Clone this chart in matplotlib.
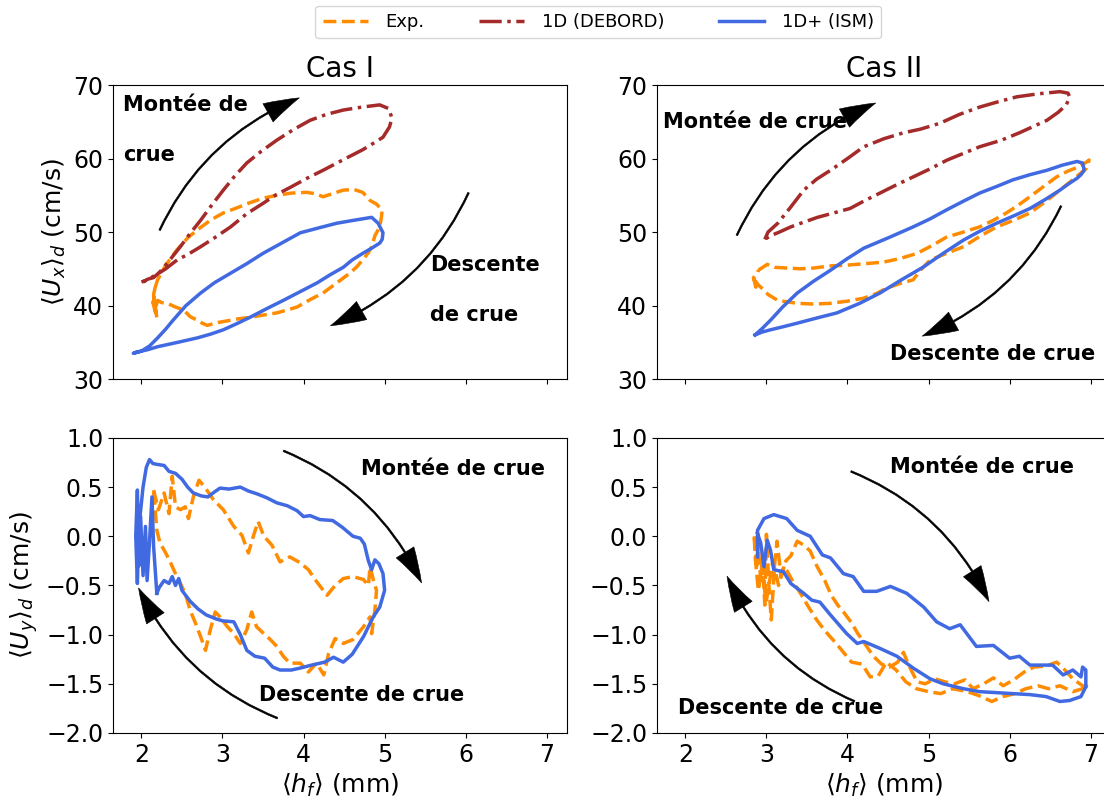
import matplotlib.pyplot as plt

# ---- Cas I : <Ux>_d en fonction de <h_f>
h_exp1_x = [2.17, 2.2, 2.3, 2.44, 2.57, 2.69, 2.85, 3.01, 3.18, 3.34, 3.5, 3.67, 3.85, 4.04, 4.15, 4.24,
            4.35, 4.49, 4.62, 4.73, 4.82, 4.9, 4.97, 4.96, 4.94, 4.88, 4.86, 4.84, 4.8, 4.73, 4.65, 4.57,
            4.4, 4.24, 4.08, 3.92, 3.8, 3.67, 3.5, 3.34, 3.2, 3.1, 2.95, 2.81, 2.75, 2.69, 2.6, 2.52,
            2.42, 2.32, 2.25, 2.2, 2.17, 2.15, 2.18, 2.14, 2.19, 2.15, 2.17]
ux_exp1 = [42.5, 43.5, 45.5, 47.6, 49.2, 50.3, 51.6, 52.6, 53.3, 54.0, 54.6, 55.0, 55.3, 55.4, 55.2, 54.8,
           55.2, 55.7, 55.8, 55.4, 54.3, 53.8, 53.0, 52.0, 50.7, 49.5, 48.7, 48.0, 47.2, 46.2, 45.2, 44.4,
           43.0, 41.7, 40.8, 39.8, 39.4, 39.0, 38.7, 38.4, 38.2, 38.0, 37.7, 37.3, 37.6, 38.0, 38.5, 39.4,
           39.8, 40.3, 40.4, 40.7, 39.5, 41.2, 39.0, 40.5, 38.3, 41.5, 42.5]

h_deb1 = [2.02, 2.08, 2.15, 2.23, 2.35, 2.48, 2.6, 2.73, 2.87, 3.01, 3.15, 3.3, 3.48, 3.67, 3.87, 4.08,
          4.28, 4.49, 4.72, 4.94, 5.05, 5.09, 5.06, 4.98, 4.85, 4.73, 4.5, 4.24, 4.04, 3.84, 3.65, 3.5,
          3.3, 3.1, 2.9, 2.73, 2.58, 2.44, 2.3, 2.2, 2.12, 2.05, 2.0]
ux_deb1 = [43.2, 43.6, 43.8, 44.6, 46.2, 48.0, 49.8, 51.6, 53.7, 55.7, 57.6, 59.4, 61.0, 62.5, 63.9, 65.2,
           66.0, 66.6, 67.0, 67.3, 66.8, 65.5, 64.3, 62.9, 62.0, 61.2, 59.9, 58.4, 57.3, 56.1, 55.0, 53.9,
           52.5, 50.7, 49.2, 48.0, 47.0, 46.2, 45.0, 44.3, 43.8, 43.4, 43.2]

h_ism1_x = [1.93, 2.0, 2.1, 2.2, 2.3, 2.39, 2.55, 2.73, 2.9, 3.1, 3.3, 3.5, 3.73, 3.96, 4.2, 4.41, 4.62,
            4.84, 4.92, 4.98, 4.97, 4.94, 4.84, 4.73, 4.6, 4.49, 4.33, 4.17, 3.96, 3.75, 3.55, 3.34,
            3.17, 3.01, 2.85, 2.69, 2.45, 2.2, 2.08, 2.0, 1.93, 1.9, 1.95]
ux_ism1 = [33.6, 33.8, 34.5, 35.6, 36.8, 38.0, 40.0, 41.7, 43.1, 44.4, 45.7, 47.1, 48.5, 49.9, 50.6, 51.2,
           51.6, 52.0, 51.2, 49.9, 49.0, 48.5, 47.8, 47.1, 46.2, 45.2, 44.2, 43.1, 41.9, 40.7, 39.6, 38.4,
           37.5, 36.7, 36.1, 35.6, 35.0, 34.4, 34.0, 33.8, 33.6, 33.5, 33.7]

# ---- Cas II : <Ux>_d
h_exp2_x = [2.9, 3.01, 3.1, 3.26, 3.42, 3.58, 3.8, 4.0, 4.22, 4.44, 4.65, 4.86, 5.05, 5.22, 5.43, 5.63,
            5.8, 5.96, 6.1, 6.25, 6.42, 6.58, 6.72, 6.86, 6.96, 6.98, 6.95, 6.8, 6.62, 6.45, 6.25, 6.05,
            5.84, 5.63, 5.43, 5.22, 5.02, 4.9, 4.81, 4.65, 4.49, 4.35, 4.2, 4.0, 3.79, 3.58, 3.38, 3.14,
            3.02, 2.97, 2.9, 2.85, 2.87, 2.84, 2.88, 2.9]
ux_exp2 = [44.8, 45.6, 45.2, 45.1, 45.0, 45.1, 45.4, 45.5, 45.7, 45.9, 46.4, 47.1, 48.2, 49.3, 50.0, 50.7,
           51.6, 52.6, 53.6, 54.8, 56.2, 57.5, 58.3, 58.9, 59.6, 59.8, 58.7, 57.3, 55.7, 54.2, 52.6, 51.6,
           50.7, 49.4, 48.0, 47.1, 46.2, 44.8, 43.5, 43.0, 42.4, 41.6, 41.0, 40.6, 40.3, 40.2, 40.3, 40.7,
           41.5, 42.1, 42.8, 43.5, 42.5, 43.8, 44.2, 44.8]

h_deb2 = [2.98, 3.02, 3.14, 3.3, 3.46, 3.62, 3.79, 4.0, 4.2, 4.45, 4.69, 4.9, 5.14, 5.38, 5.63, 5.85,
          6.09, 6.35, 6.62, 6.72, 6.74, 6.7, 6.6, 6.46, 6.3, 6.12, 5.9, 5.63, 5.43, 5.23, 5.02, 4.81,
          4.6, 4.4, 4.2, 4.03, 3.83, 3.63, 3.45, 3.3, 3.14, 3.05, 2.98]
ux_deb2 = [49.0, 50.0, 51.2, 53.4, 55.7, 57.2, 58.4, 60.0, 61.6, 62.7, 63.5, 64.0, 64.8, 66.0, 67.0, 67.7,
           68.4, 68.8, 69.1, 68.9, 68.4, 67.3, 66.3, 65.2, 64.4, 63.5, 62.5, 61.6, 60.7, 59.8, 58.6, 57.5,
           56.4, 55.3, 54.2, 53.2, 52.6, 52.0, 51.3, 50.7, 49.9, 49.5, 49.0]

h_ism2_x = [2.86, 2.95, 3.05, 3.2, 3.38, 3.58, 3.79, 4.0, 4.2, 4.5, 4.81, 5.02, 5.22, 5.43, 5.63, 5.84,
            6.04, 6.25, 6.46, 6.65, 6.83, 6.9, 6.92, 6.88, 6.83, 6.72, 6.62, 6.45, 6.25, 6.05, 5.84, 5.63,
            5.43, 5.18, 4.93, 4.65, 4.4, 4.15, 3.87, 3.62, 3.38, 3.2, 3.05, 2.95, 2.88, 2.86]
ux_ism2 = [36.0, 36.9, 38.0, 39.8, 41.7, 43.3, 44.8, 46.4, 47.8, 49.2, 50.7, 51.8, 53.0, 54.2, 55.3, 56.2,
           57.1, 57.8, 58.4, 59.1, 59.6, 59.4, 58.4, 57.8, 57.3, 56.5, 55.7, 54.5, 53.2, 52.2, 51.2, 50.1,
           48.9, 47.1, 45.2, 43.4, 41.7, 40.3, 39.0, 38.3, 37.6, 37.1, 36.7, 36.4, 36.1, 36.0]

# ---- Cas I : <Uy>_d
h_exp1_y = [2.15, 2.21, 2.28, 2.34, 2.38, 2.42, 2.48, 2.54, 2.58, 2.64, 2.71, 2.79, 2.89, 3.01, 3.14,
            3.24, 3.32, 3.38, 3.44, 3.51, 3.61, 3.71, 3.83, 3.96, 4.06, 4.16, 4.29, 4.39, 4.49, 4.61,
            4.74, 4.8, 4.82, 4.86, 4.9, 4.88, 4.84, 4.82, 4.74, 4.61, 4.49, 4.39, 4.31, 4.25, 4.16, 4.06,
            3.96, 3.83, 3.75, 3.67, 3.59, 3.51, 3.42, 3.36, 3.3, 3.22, 3.14, 3.06, 2.97, 2.91, 2.85,
            2.79, 2.73, 2.67, 2.6, 2.54, 2.48, 2.42, 2.36, 2.3, 2.23, 2.19, 2.17, 2.15]
uy_exp1 = [0.47, 0.27, 0.44, 0.23, 0.61, 0.30, 0.27, 0.30, 0.18, 0.40, 0.57, 0.49, 0.37, 0.27, 0.10,
           0.01, -0.17, 0.0, 0.15, 0.0, -0.09, -0.26, -0.21, -0.27, -0.34, -0.46, -0.60, -0.50, -0.43,
           -0.41, -0.44, -0.50, -0.31, -0.44, -0.55, -0.75, -0.99, -0.82, -0.92, -1.05, -1.09, -1.04,
           -1.19, -1.41, -1.29, -1.38, -1.29, -1.29, -1.22, -1.12, -1.05, -0.99, -0.92, -0.77, -0.95,
           -1.09, -0.99, -0.92, -0.82, -0.77, -0.95, -1.16, -1.02, -0.89, -0.75, -0.58, -0.48, -0.38,
           -0.27, -0.17, -0.07, 0.06, 0.27, 0.47]

h_ism1_y = [2.19, 2.15, 2.13, 2.1, 2.07, 2.05, 2.02, 1.99, 1.97, 1.95, 1.93, 1.95, 1.97, 2.02, 2.06,
            2.1, 2.14, 2.2, 2.28, 2.34, 2.42, 2.5, 2.57, 2.64, 2.74, 2.82, 2.9, 2.97, 3.08, 3.22, 3.32,
            3.43, 3.55, 3.67, 3.8, 3.92, 4.0, 4.08, 4.2, 4.36, 4.48, 4.61, 4.7, 4.75, 4.8, 4.84, 4.88,
            4.93, 4.98, 5.0, 4.94, 4.86, 4.74, 4.6, 4.49, 4.37, 4.26, 4.1, 3.96, 3.85, 3.71, 3.62, 3.52,
            3.4, 3.3, 3.22, 3.14, 3.0, 2.92, 2.8, 2.7, 2.6, 2.5, 2.46, 2.42, 2.38, 2.34, 2.28, 2.22, 2.19]
uy_ism1 = [-0.58, -0.10, 0.40, -0.05, -0.45, 0.10, -0.40, 0.20, -0.30, 0.47, 0.0, -0.48, 0.10, 0.50,
           0.70, 0.78, 0.74, 0.73, 0.72, 0.66, 0.64, 0.58, 0.50, 0.44, 0.41, 0.40, 0.45, 0.49, 0.48,
           0.50, 0.46, 0.43, 0.39, 0.34, 0.31, 0.26, 0.20, 0.21, 0.17, 0.16, 0.09, 0.0, -0.02, -0.08,
           -0.25, -0.34, -0.24, -0.28, -0.38, -0.55, -0.72, -0.82, -1.02, -1.20, -1.28, -1.23, -1.28,
           -1.31, -1.34, -1.36, -1.36, -1.33, -1.24, -1.22, -1.16, -1.0, -0.87, -0.86, -0.84, -0.80,
           -0.74, -0.66, -0.55, -0.43, -0.50, -0.41, -0.48, -0.45, -0.52, -0.58]

# ---- Cas II : <Uy>_d
h_exp2_y = [2.85, 2.88, 2.9, 2.93, 2.95, 2.98, 3.0, 3.03, 3.06, 3.1, 3.13, 3.18, 3.24, 3.3, 3.38, 3.46,
            3.54, 3.62, 3.72, 3.8, 3.88, 3.96, 4.05, 4.12, 4.22, 4.32, 4.42, 4.52, 4.62, 4.69, 4.76,
            4.86, 4.96, 5.08, 5.2, 5.32, 5.45, 5.55, 5.68, 5.8, 5.92, 6.05, 6.18, 6.3, 6.45, 6.58, 6.66,
            6.78, 6.9, 6.98, 6.9, 6.78, 6.62, 6.48, 6.35, 6.2, 6.06, 5.92, 5.78, 5.62, 5.48, 5.3, 5.15,
            5.0, 4.85, 4.72, 4.6, 4.48, 4.38, 4.28, 4.18, 4.05, 3.95, 3.85, 3.72, 3.62, 3.52, 3.42,
            3.32, 3.22, 3.15, 3.08, 3.0, 2.95, 2.9, 2.86, 2.85]
uy_exp2 = [0.0, -0.3, -0.1, -0.45, -0.2, -0.7, 0.02, -0.5, -0.85, -0.3, -0.05, -0.4, -0.25, -0.2,
           -0.05, -0.09, -0.15, -0.3, -0.45, -0.6, -0.7, -0.78, -0.88, -0.98, -1.1, -1.22, -1.3, -1.33,
           -1.28, -1.18, -1.32, -1.48, -1.5, -1.45, -1.48, -1.5, -1.46, -1.55, -1.5, -1.44, -1.52,
           -1.46, -1.38, -1.33, -1.32, -1.28, -1.34, -1.45, -1.52, -1.53, -1.55, -1.58, -1.52, -1.55,
           -1.52, -1.55, -1.6, -1.63, -1.68, -1.62, -1.58, -1.55, -1.6, -1.58, -1.55, -1.48, -1.36,
           -1.28, -1.42, -1.43, -1.3, -1.28, -1.18, -1.08, -0.96, -0.85, -0.72, -0.58, -0.45, -0.3,
           -0.5, -0.25, -0.65, -0.3, -0.55, -0.2, 0.0]

h_ism2_y = [2.89, 2.89, 2.97, 3.09, 3.25, 3.38, 3.54, 3.69, 3.79, 3.95, 4.07, 4.2, 4.36, 4.53, 4.73,
            4.94, 5.1, 5.26, 5.39, 5.59, 5.8, 6.0, 6.12, 6.25, 6.53, 6.66, 6.78, 6.88, 6.9, 6.94, 6.94,
            6.88, 6.74, 6.62, 6.45, 6.25, 6.04, 5.63, 5.43, 5.18, 5.02, 4.81, 4.61, 4.4, 4.2, 4.12,
            3.99, 3.79, 3.66, 3.56, 3.46, 3.3, 3.21, 3.09, 3.05, 3.01, 2.97, 2.93, 2.89]
uy_ism2 = [-0.21, 0.06, 0.18, 0.22, 0.18, 0.06, 0.0, -0.19, -0.22, -0.38, -0.41, -0.56, -0.56, -0.51,
           -0.58, -0.72, -0.87, -0.94, -0.9, -1.12, -1.11, -1.24, -1.22, -1.31, -1.31, -1.41, -1.36,
           -1.43, -1.33, -1.36, -1.53, -1.63, -1.67, -1.68, -1.63, -1.61, -1.6, -1.58, -1.55, -1.5,
           -1.45, -1.34, -1.22, -1.14, -1.07, -1.09, -0.99, -0.8, -0.67, -0.65, -0.58, -0.48, -0.36,
           -0.34, -0.14, -0.04, -0.31, -0.07, 0.03]

c_exp = "darkorange"
c_deb = "brown"
c_ism = "royalblue"
lw = 2.5

fig = plt.figure(figsize=(11.04, 8.0), dpi=100)
w, hgt = 0.4112, 0.3675
ax1 = fig.add_axes([0.1024, 0.5262, w, hgt])
ax2 = fig.add_axes([0.5951, 0.5262, w, hgt], sharex=ax1)
ax3 = fig.add_axes([0.1024, 0.0838, w, 0.3688], sharex=ax1)
ax4 = fig.add_axes([0.5951, 0.0838, w, 0.3688], sharex=ax1)

l1, = ax1.plot(h_exp1_x, ux_exp1, "--", color=c_exp, lw=lw, label="Exp.")
l2, = ax1.plot(h_deb1, ux_deb1, "-.", color=c_deb, lw=lw, label="1D (DEBORD)")
l3, = ax1.plot(h_ism1_x, ux_ism1, "-", color=c_ism, lw=lw, label="1D+ (ISM)")
ax2.plot(h_exp2_x, ux_exp2, "--", color=c_exp, lw=lw)
ax2.plot(h_deb2, ux_deb2, "-.", color=c_deb, lw=lw)
ax2.plot(h_ism2_x, ux_ism2, "-", color=c_ism, lw=lw)
ax3.plot(h_exp1_y, uy_exp1, "--", color=c_exp, lw=lw)
ax3.plot(h_ism1_y, uy_ism1, "-", color=c_ism, lw=lw)
ax4.plot(h_exp2_y, uy_exp2, "--", color=c_exp, lw=lw)
ax4.plot(h_ism2_y, uy_ism2, "-", color=c_ism, lw=lw)

for ax in (ax1, ax2):
    ax.set_ylim(30, 70)
    ax.set_yticks([30, 40, 50, 60, 70])
    ax.tick_params(labelbottom=False)
for ax in (ax3, ax4):
    ax.set_ylim(-2.0, 1.0)
    ax.set_yticks([-2.0, -1.5, -1.0, -0.5, 0.0, 0.5, 1.0])
    ax.set_xlabel(r"$\langle h_f \rangle$ (mm)", fontsize=18)
ax1.set_xlim(1.65, 7.25)
ax1.set_xticks([2, 3, 4, 5, 6, 7])
for ax in (ax1, ax2, ax3, ax4):
    ax.tick_params(labelsize=17)

ax1.set_ylabel(r"$\langle U_x \rangle_d$ (cm/s)", fontsize=18)
ax3.set_ylabel(r"$\langle U_y \rangle_d$ (cm/s)", fontsize=18)
ax1.set_title("Cas I", fontsize=20)
ax2.set_title("Cas II", fontsize=20)

arr = dict(arrowstyle="simple,head_length=1.0,head_width=0.6,tail_width=0.05",
           connectionstyle="arc3,rad=-0.2", color="black", lw=0.4, mutation_scale=25)
tk = dict(fontsize=15, fontweight="bold")

# fleches et textes
ax1.annotate("", xy=(3.98, 68.4), xytext=(2.21, 49.9), arrowprops=arr)
ax1.annotate("", xy=(4.3, 37.1), xytext=(6.05, 55.7), arrowprops=arr)
ax1.text(1.77, 67.3, "Montée de", va="center", **tk)
ax1.text(1.77, 60.5, "crue", va="center", **tk)
ax1.text(5.56, 45.5, "Descente", va="center", **tk)
ax1.text(5.56, 38.7, "de crue", va="center", **tk)

ax2.annotate("", xy=(4.38, 67.7), xytext=(2.62, 49.2), arrowprops=arr)
ax2.annotate("", xy=(4.89, 35.7), xytext=(6.65, 53.9), arrowprops=arr)
ax2.text(1.73, 65.0, "Montée de crue", va="center", **tk)
ax2.text(4.53, 33.4, "Descente de crue", va="center", **tk)

ax3.annotate("", xy=(5.47, -0.5), xytext=(3.72, 0.88), arrowprops=arr)
ax3.annotate("", xy=(1.95, -0.5), xytext=(3.71, -1.86), arrowprops=arr)
ax3.text(4.71, 0.68, "Montée de crue", va="center", **tk)
ax3.text(3.45, -1.61, "Descente de crue", va="center", **tk)

ax4.annotate("", xy=(5.76, -0.69), xytext=(4.01, 0.67), arrowprops=arr)
ax4.annotate("", xy=(2.5, -0.38), xytext=(4.12, -1.69), arrowprops=arr)
ax4.text(4.53, 0.70, "Montée de crue", va="center", **tk)
ax4.text(1.91, -1.75, "Descente de crue", va="center", **tk)

fig.legend(handles=[l1, l2, l3], loc="upper center", bbox_to_anchor=(0.542, 1.004),
           ncol=3, fontsize=13, columnspacing=3.0, handlelength=2.5, handletextpad=1.0)

fig.savefig("out.png", dpi=100)
